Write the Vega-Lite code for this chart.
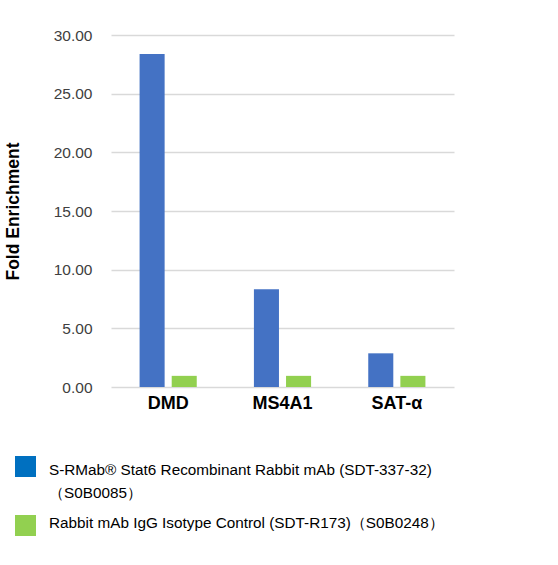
{
  "$schema": "https://vega.github.io/schema/vega-lite/v6.json",
  "autosize": "none",
  "width": 343,
  "height": 352,
  "padding": {"left": 111, "top": 35, "right": 104, "bottom": 178},
  "background": "white",
  "config": {"font": "Liberation Sans", "view": {"stroke": null}},
  "data": {
    "values": [
      {"gene": "DMD", "antibody": "S-RMab® Stat6 Recombinant Rabbit mAb (SDT-337-32)（S0B0085）", "fold": 28.38},
      {"gene": "DMD", "antibody": "Rabbit mAb IgG Isotype Control (SDT-R173)（S0B0248）", "fold": 0.95},
      {"gene": "MS4A1", "antibody": "S-RMab® Stat6 Recombinant Rabbit mAb (SDT-337-32)（S0B0085）", "fold": 8.33},
      {"gene": "MS4A1", "antibody": "Rabbit mAb IgG Isotype Control (SDT-R173)（S0B0248）", "fold": 0.95},
      {"gene": "SAT-α", "antibody": "S-RMab® Stat6 Recombinant Rabbit mAb (SDT-337-32)（S0B0085）", "fold": 2.87},
      {"gene": "SAT-α", "antibody": "Rabbit mAb IgG Isotype Control (SDT-R173)（S0B0248）", "fold": 0.95}
    ]
  },
  "mark": {"type": "bar"},
  "encoding": {
    "x": {
      "field": "gene", "type": "nominal", "sort": ["DMD", "MS4A1", "SAT-α"],
      "scale": {"paddingInner": 0.5, "paddingOuter": 0.25},
      "axis": {"title": null, "labelAngle": 0, "labelFontSize": 18, "labelFontWeight": "bold", "labelColor": "#000000", "labelPadding": 7, "domain": false, "ticks": false}
    },
    "xOffset": {
      "field": "antibody", "type": "nominal",
      "sort": ["S-RMab® Stat6 Recombinant Rabbit mAb (SDT-337-32)（S0B0085）", "Rabbit mAb IgG Isotype Control (SDT-R173)（S0B0248）"],
      "scale": {"paddingInner": 0.22, "paddingOuter": 0}
    },
    "y": {
      "field": "fold", "type": "quantitative",
      "scale": {"domain": [0, 30], "nice": false},
      "axis": {"title": "Fold Enrichment", "titleFontSize": 17.5, "titleFontWeight": "bold", "titleColor": "#000000", "titlePadding": 31,
        "format": ".2f", "values": [0, 5, 10, 15, 20, 25, 30], "labelFontSize": 15.5, "labelColor": "#404040", "labelPadding": 19,
        "ticks": false, "domain": false, "gridColor": "#d9d9d9", "gridWidth": 1.5}
    },
    "color": {
      "field": "antibody", "type": "nominal",
      "sort": ["S-RMab® Stat6 Recombinant Rabbit mAb (SDT-337-32)（S0B0085）", "Rabbit mAb IgG Isotype Control (SDT-R173)（S0B0248）"],
      "scale": {"range": ["#4472C4", "#92D050"]},
      "legend": {
        "title": null, "orient": "none", "legendX": -96, "legendY": 421, "direction": "vertical",
        "symbolType": "square", "symbolSize": 100, "labelFontSize": 15.3, "labelColor": "#000000",
        "labelOffset": 13, "labelLimit": 600, "rowPadding": -3, "labelBaseline": "top",
        "labelExpr": "indexof(datum.label, 'S-RMab') == 0 ? ['S-RMab® Stat6 Recombinant Rabbit mAb (SDT-337-32)', '（S0B0085）'] : datum.label",
        "encode": {
          "symbols": {"update": {
            "fill": {"signal": "indexof(datum.value, 'S-RMab') == 0 ? '#0070C0' : '#92D050'"},
            "stroke": {"signal": "indexof(datum.value, 'S-RMab') == 0 ? '#0070C0' : '#92D050'"},
            "strokeWidth": {"value": 11},
            "opacity": {"value": 1}}},
          "labels": {"update": {"dy": {"signal": "indexof(datum.value, 'S-RMab') == 0 ? -4 : -10"}, "lineHeight": {"value": 23}}}
        }
      }
    }
  }
}
